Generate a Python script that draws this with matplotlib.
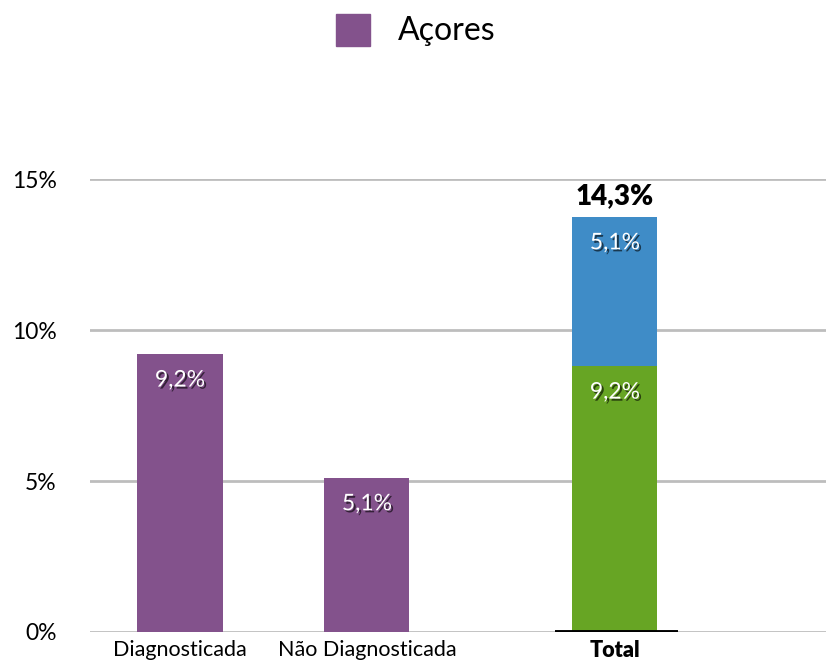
import matplotlib
matplotlib.use('Agg')
import matplotlib.pyplot as plt
import matplotlib.patheffects as pe
from matplotlib.patches import Rectangle

plt.rcParams['font.family'] = ['Lato', 'DejaVu Sans']

# data
categories = ['Diagnosticada', 'Não Diagnosticada', 'Total']
acores_values = [9.2, 5.1]
acores_labels = ['9,2%', '5,1%']
total_green = 8.8      # drawn height of the lower part of the total bar
total_blue = 4.95      # drawn height of the upper part
total_green_label = '9,2%'
total_blue_label = '5,1%'
total_label = '14,3%'
yticks = [0, 5, 10, 15]
ytick_labels = ['0%', '5%', '10%', '15%']

purple = '#83528c'
green = '#67a524'
blue = '#3f8cc7'
grid_grey = '#bdbdbd'

x_pos = [0, 1, 2.326]
width = 0.455

fig = plt.figure(figsize=(8.26, 6.67), dpi=100)
ax = fig.add_axes([0.109, 0.0525, 0.891, 0.6785])

shadow = [pe.withSimplePatchShadow(offset=(1.5, -1.5), shadow_rgbFace='black', alpha=0.6)]

ax.bar(x_pos[:2], acores_values, width=width, color=purple, zorder=3)
ax.bar(x_pos[2], total_green, width=width, color=green, zorder=3)
ax.bar(x_pos[2], total_blue, bottom=total_green, width=width, color=blue, zorder=3)

for x, v, lab in zip(x_pos[:2], acores_values, acores_labels):
    ax.text(x, v - 0.85, lab, ha='center', va='center', color='white',
            fontsize=16.5, zorder=5, path_effects=shadow)
ax.text(x_pos[2], total_green - 0.85, total_green_label, ha='center', va='center',
        color='white', fontsize=16.5, zorder=5, path_effects=shadow)
ax.text(x_pos[2], total_green + total_blue - 0.85, total_blue_label, ha='center',
        va='center', color='white', fontsize=16.5, zorder=5, path_effects=shadow)
ax.text(x_pos[2], total_green + total_blue + 0.25, total_label, ha='center',
        va='bottom', color='black', fontsize=20, fontweight='heavy', zorder=5)

# black baseline under the total bar
ax.plot([x_pos[2] - 0.318, x_pos[2] + 0.34], [0, 0], color='black', lw=2.8,
        zorder=4, solid_capstyle='butt')

ax.set_xlim(-0.481, 3.455)
ax.set_ylim(0, 15)
ax.set_yticks(yticks)
ax.set_yticklabels(ytick_labels, fontsize=16.5)
ax.set_xticks(x_pos)
ax.set_xticklabels(categories, fontsize=15.5)
ax.get_xticklabels()[2].set_fontweight('heavy')
ax.tick_params(axis='both', length=0)
ax.tick_params(axis='y', pad=24)
ax.tick_params(axis='x', pad=6)
ax.yaxis.grid(True, color=grid_grey, lw=2, zorder=0)
ax.set_axisbelow(True)
for s in ax.spines.values():
    s.set_visible(False)

# legend at the top
fig.patches.append(Rectangle((336 / 826, 1 - 46 / 667), 34 / 826, 32 / 667,
                             transform=fig.transFigure, color=purple, figure=fig))
fig.text(398 / 826, 1 - 31 / 667, 'Açores', ha='left', va='center', fontsize=23)

fig.savefig('out.png', dpi=100)
